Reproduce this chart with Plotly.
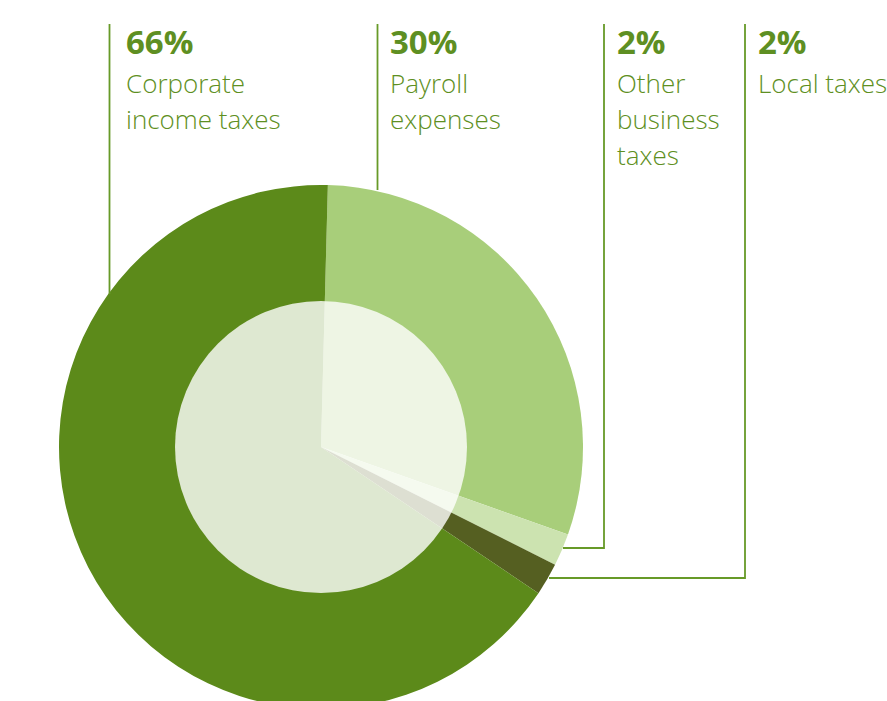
import plotly.graph_objects as go

W, H = 887, 712  # page viewport is 701 tall; the donut's bottom runs off the page

labels = ["Payroll expenses", "Other business taxes", "Local taxes", "Corporate income taxes"]
values = [30, 2, 2, 66]
colors = ["#a8ce7a", "#cce3b0", "#555f21", "#5c8a1a"]

pct_text = ["66%", "30%", "2%", "2%"]
name_lines = [["Corporate", "income taxes"], ["Payroll", "expenses"],
              ["Other", "business", "taxes"], ["Local taxes"]]
text_x_px = [124, 388, 615, 756]

GREEN = "#5e8f22"
LINE_GREEN = "#679a28"

def px(x):
    return x / W

def py(y):
    return 1 - y / H

cx, cy, R = 321, 447, 262
r_in = 146

fig = go.Figure()
fig.add_trace(go.Pie(
    labels=labels, values=values, sort=False, direction="clockwise",
    rotation=1.5, marker=dict(colors=colors, line=dict(width=0)),
    textinfo="none", hoverinfo="label+percent", showlegend=False,
    domain=dict(x=[px(cx - R), px(cx + R)], y=[py(cy + R), py(cy - R)]),
))

shapes = [
    dict(type="circle", xref="paper", yref="paper",
         x0=px(cx - r_in), x1=px(cx + r_in), y0=py(cy + r_in), y1=py(cy - r_in),
         fillcolor="rgba(255,255,255,0.8)", line=dict(width=0), layer="above"),
]
lw = 1.8
leaders = [
    [(109.5, 24), (109.5, 294)],
    [(377.5, 24), (377.5, 190)],
    [(604, 24), (604, 548), (563, 548)],
    [(745, 24), (745, 578), (549, 578)],
]
for pts in leaders:
    path = "M " + " L ".join(f"{px(x)},{py(y)}" for x, y in pts)
    shapes.append(dict(type="path", xref="paper", yref="paper", path=path,
                       line=dict(color=LINE_GREEN, width=lw), layer="above"))

annotations = []
for i in range(4):
    annotations.append(dict(xref="paper", yref="paper", x=px(text_x_px[i]), y=py(17),
                            xanchor="left", yanchor="top", showarrow=False, align="left",
                            text=f"<b>{pct_text[i]}</b>",
                            font=dict(family="Open Sans", size=33, color=GREEN)))
    for j, line in enumerate(name_lines[i]):
        annotations.append(dict(xref="paper", yref="paper", x=px(text_x_px[i]),
                                y=py(63 + 36 * j),
                                xanchor="left", yanchor="top", showarrow=False, align="left",
                                text=line,
                                font=dict(family="Open Sans", size=26, color=GREEN,
                                          weight=350)))

fig.update_layout(width=W, height=H, margin=dict(l=0, r=0, t=0, b=0),
                  paper_bgcolor="white", plot_bgcolor="white",
                  shapes=shapes, annotations=annotations)
fig.write_html("out.html", config={"displayModeBar": False},
               post_script="document.documentElement.style.overflow='hidden';"
                           "document.body.style.margin='0';document.body.style.overflow='hidden';")
